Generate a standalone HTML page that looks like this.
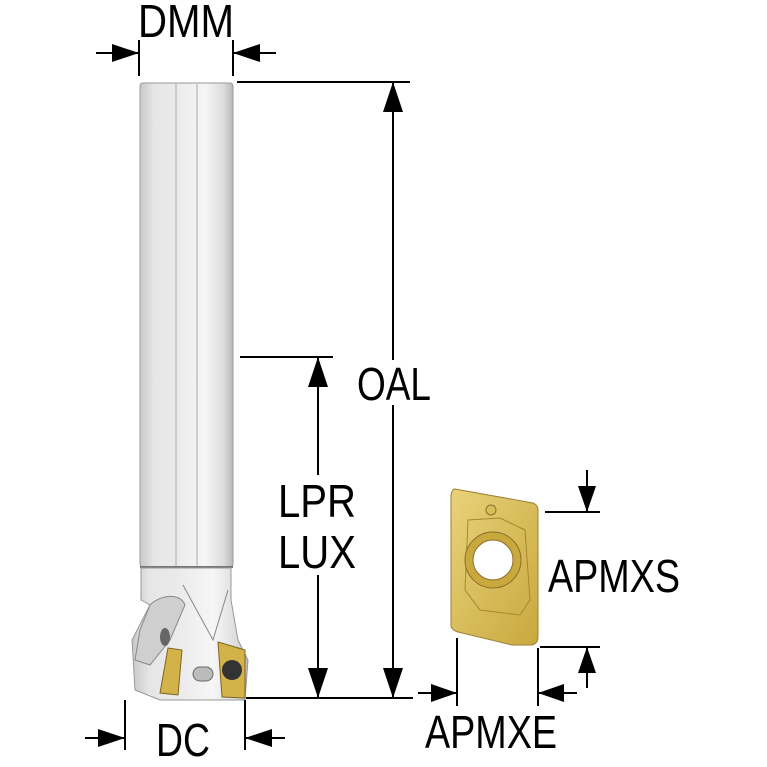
<!DOCTYPE html>
<html><head><style>html,body{margin:0;padding:0;background:#fff}svg{display:block}
text{font-family:"Liberation Sans",sans-serif;font-size:46px;fill:#000}</style></head>
<body>
<svg width="767" height="767" viewBox="0 0 767 767" xmlns="http://www.w3.org/2000/svg">
<defs>
<linearGradient id="sh" x1="0" x2="1">
<stop offset="0" stop-color="#c8c8c8"/><stop offset="0.15" stop-color="#e6e6e6"/><stop offset="0.4" stop-color="#ebebeb"/><stop offset="0.7" stop-color="#f6f6f6"/><stop offset="0.9" stop-color="#dcdcdc"/><stop offset="1" stop-color="#b8b8b8"/>
</linearGradient>
<linearGradient id="gd" x1="0" x2="1" y1="0" y2="1"><stop offset="0" stop-color="#e8d27a"/><stop offset="1" stop-color="#c9a83e"/></linearGradient>
</defs>
<rect x="140" y="83" width="93" height="484" rx="3" fill="url(#sh)" stroke="#999" stroke-width="1"/>
<line x1="176" y1="84" x2="176" y2="610" stroke="#aaa"/>
<line x1="197" y1="84" x2="197" y2="610" stroke="#aaa"/>
<line x1="140" y1="567" x2="233" y2="567" stroke="#777" stroke-width="2"/>
<path d="M141,568 L231,568 L231,600 L238,640 L248,660 L245,700 L160,700 L135,690 L132,640 L150,605 L141,600 Z" fill="url(#sh)" stroke="#999"/>
<path d="M150,605 C160,595 180,592 185,605 L170,640 L150,665 L135,660 L140,630 Z" fill="#cfcfcf" stroke="#888"/>
<path d="M183,585 L213,640 L228,590" fill="none" stroke="#888"/>
<ellipse cx="165" cy="637" rx="5" ry="9" fill="#666"/>
<path d="M168,648 L182,650 L178,695 L160,693 Z" fill="#d4b24a" stroke="#7a6420"/>
<path d="M218,642 L245,650 L245,698 L222,697 Z" fill="#d4b24a" stroke="#7a6420"/>
<circle cx="232" cy="670" r="10" fill="#333"/>
<rect x="193" y="667" width="20" height="14" rx="7" fill="#bbb" stroke="#666"/>
<text x="186" y="37" text-anchor="middle" textLength="96" lengthAdjust="spacingAndGlyphs">DMM</text>
<line x1="139" y1="40" x2="139" y2="76" stroke="#000" stroke-width="2"/>
<line x1="233" y1="40" x2="233" y2="76" stroke="#000" stroke-width="2"/>
<line x1="96" y1="53" x2="139" y2="53" stroke="#000" stroke-width="2"/>
<path d="M139,53 L112,44 L112,62Z"/>
<line x1="276" y1="53" x2="233" y2="53" stroke="#000" stroke-width="2"/>
<path d="M233,53 L260,44 L260,62Z"/>
<line x1="237" y1="82" x2="410" y2="82" stroke="#000" stroke-width="2"/>
<line x1="393" y1="82" x2="393" y2="360" stroke="#000" stroke-width="2"/>
<line x1="393" y1="405" x2="393" y2="698" stroke="#000" stroke-width="2"/>
<path d="M393,82 L383,112 L403,112Z"/><path d="M393,698 L383,668 L403,668Z"/>
<text x="394" y="400" text-anchor="middle" textLength="74" lengthAdjust="spacingAndGlyphs">OAL</text>
<line x1="240" y1="357" x2="333" y2="357" stroke="#000" stroke-width="2"/>
<line x1="318" y1="357" x2="318" y2="475" stroke="#000" stroke-width="2"/>
<line x1="318" y1="575" x2="318" y2="698" stroke="#000" stroke-width="2"/>
<path d="M318,357 L308,387 L328,387Z"/><path d="M318,698 L308,668 L328,668Z"/>
<text x="317" y="517" text-anchor="middle" textLength="78" lengthAdjust="spacingAndGlyphs">LPR</text>
<text x="317" y="568" text-anchor="middle" textLength="78" lengthAdjust="spacingAndGlyphs">LUX</text>
<line x1="246" y1="698" x2="413" y2="698" stroke="#000" stroke-width="2"/>
<line x1="125" y1="700" x2="125" y2="750" stroke="#000" stroke-width="2"/>
<line x1="245" y1="700" x2="245" y2="750" stroke="#000" stroke-width="2"/>
<line x1="85" y1="738" x2="125" y2="738" stroke="#000" stroke-width="2"/><path d="M125,738 L98,729 L98,747Z"/>
<line x1="285" y1="738" x2="245" y2="738" stroke="#000" stroke-width="2"/><path d="M245,738 L272,729 L272,747Z"/>
<text x="183" y="756" text-anchor="middle" textLength="54" lengthAdjust="spacingAndGlyphs">DC</text>
<path d="M455,489 L533,503 Q538,505 538,510 L538,638 Q537,645 530,645 L512,645 L458,632 Q451,630 451,625 L451,495 Q452,489 455,489Z" fill="url(#gd)" stroke="#9c8232"/>
<path d="M468,520 L500,518 L525,530 L530,600 L520,615 L480,610 L465,590 Z" fill="none" stroke="#a58830"/>
<circle cx="493" cy="560" r="28" fill="#c9a83e" stroke="#8a7028"/>
<circle cx="493" cy="560" r="20" fill="#fff" stroke="#8a7028"/>
<circle cx="491" cy="510" r="5" fill="#d8be5c" stroke="#8a7028"/>
<line x1="545" y1="512" x2="600" y2="512" stroke="#000" stroke-width="2"/>
<line x1="587" y1="470" x2="587" y2="512" stroke="#000" stroke-width="2"/><path d="M587,512 L578,486 L596,486Z"/>
<line x1="540" y1="647" x2="600" y2="647" stroke="#000" stroke-width="2"/>
<line x1="587" y1="688" x2="587" y2="647" stroke="#000" stroke-width="2"/><path d="M587,647 L578,673 L596,673Z"/>
<text x="614" y="592" text-anchor="middle" textLength="132" lengthAdjust="spacingAndGlyphs">APMXS</text>
<line x1="457" y1="638" x2="457" y2="706" stroke="#000" stroke-width="2"/>
<line x1="538" y1="648" x2="538" y2="706" stroke="#000" stroke-width="2"/>
<line x1="418" y1="693" x2="457" y2="693" stroke="#000" stroke-width="2"/><path d="M457,693 L431,684 L431,702Z"/>
<line x1="577" y1="693" x2="538" y2="693" stroke="#000" stroke-width="2"/><path d="M538,693 L564,684 L564,702Z"/>
<text x="491" y="748" text-anchor="middle" textLength="132" lengthAdjust="spacingAndGlyphs">APMXE</text>
</svg>
</body></html>
